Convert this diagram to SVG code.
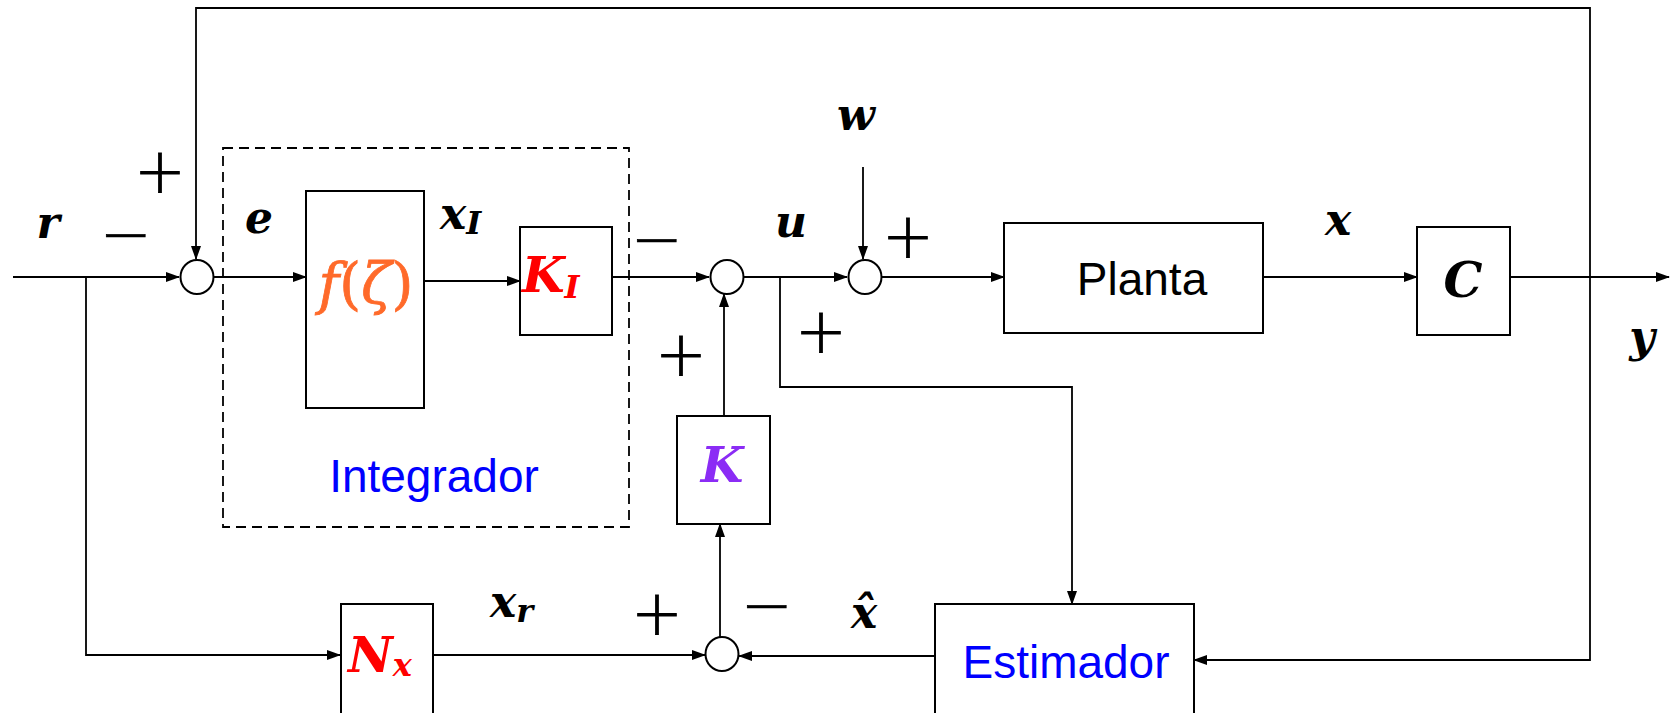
<svg xmlns="http://www.w3.org/2000/svg" width="1670" height="713" viewBox="0 0 1670 713">
<defs>
<marker id="ar" markerWidth="14" markerHeight="10" refX="13" refY="5" orient="auto" markerUnits="userSpaceOnUse">
<path d="M0,0 L14,5 L0,10 Z" fill="#000"/>
</marker>
<style>
.ln{fill:none;stroke:#000;stroke-width:1.8}
.bx{fill:#fff;stroke:#000;stroke-width:2}
.sum{fill:#fff;stroke:#000;stroke-width:2}
.m{font-family:"DejaVu Serif",serif;font-weight:bold;font-style:italic;font-size:44px;fill:#000}
.big{font-size:49px}
.sub{font-size:32px}
.s{font-family:"Liberation Sans",Arial,sans-serif;font-size:46px}
.pm{font-family:"DejaVu Sans",sans-serif;font-weight:300;font-size:62px;fill:#000;text-anchor:middle;stroke:#000;stroke-width:0.8}
.c{text-anchor:middle}
</style>
</defs>
<rect width="1670" height="713" fill="#fff"/>
<g id="connectors">
<path class="ln" d="M13,277 H179" marker-end="url(#ar)"/>
<path class="ln" d="M86,277 V655 H340" marker-end="url(#ar)"/>
<path class="ln" d="M1590,277 V8 H196 V259" marker-end="url(#ar)"/>
<path class="ln" d="M214,277 H306" marker-end="url(#ar)"/>
<path class="ln" d="M424,281 H520" marker-end="url(#ar)"/>
<path class="ln" d="M612,277 H709" marker-end="url(#ar)"/>
<path class="ln" d="M744,277 H847" marker-end="url(#ar)"/>
<path class="ln" d="M863,167 V259" marker-end="url(#ar)"/>
<path class="ln" d="M882,277 H1004" marker-end="url(#ar)"/>
<path class="ln" d="M1263,277 H1417" marker-end="url(#ar)"/>
<path class="ln" d="M1510,277 H1669" marker-end="url(#ar)"/>
<path class="ln" d="M1590,277 V660 H1194" marker-end="url(#ar)"/>
<path class="ln" d="M780,277 V387 H1072 V604" marker-end="url(#ar)"/>
<path class="ln" d="M935,656 H739" marker-end="url(#ar)"/>
<path class="ln" d="M433,655 H705" marker-end="url(#ar)"/>
<path class="ln" d="M720,637 V524" marker-end="url(#ar)"/>
<path class="ln" d="M724,416 V294" marker-end="url(#ar)"/>
</g>
<g id="integrador">
<rect x="223" y="148" width="406" height="379" fill="none" stroke="#000" stroke-width="1.8" stroke-dasharray="10,6"/>
<text class="s c" x="434" y="492" fill="#0000ff">Integrador</text>
</g>
<g id="sum1"><ellipse class="sum" cx="197" cy="277" rx="16.5" ry="17"/></g>
<g id="sum2"><ellipse class="sum" cx="727" cy="277" rx="16.5" ry="17"/></g>
<g id="sum3"><ellipse class="sum" cx="865" cy="277" rx="16.5" ry="17"/></g>
<g id="sum4"><ellipse class="sum" cx="722" cy="654" rx="16.5" ry="17"/></g>
<g id="f">
<rect class="bx" x="306" y="191" width="118" height="217"/>
<text x="366" y="303" text-anchor="middle" font-family="DejaVu Serif,serif" font-size="56" fill="#ff6a2a" stroke="#ff6a2a" stroke-width="0.8"><tspan font-style="italic">f</tspan><tspan>(</tspan><tspan font-style="italic">ζ</tspan><tspan>)</tspan></text>
</g>
<g id="KI">
<rect class="bx" x="520" y="227" width="92" height="108"/>
<text class="m big" x="522" y="292" style="fill:#ff0000">K<tspan class="sub" dy="6">I</tspan></text>
</g>
<g id="planta">
<rect class="bx" x="1004" y="223" width="259" height="110"/>
<text class="s c" x="1142" y="295">Planta</text>
</g>
<g id="C">
<rect class="bx" x="1417" y="227" width="93" height="108"/>
<text class="m big c" x="1463" y="297">C</text>
</g>
<g id="K">
<rect class="bx" x="677" y="416" width="93" height="108"/>
<text class="m big c" x="722" y="482" style="fill:#8b2cf5">K</text>
</g>
<g id="Nx">
<rect class="bx" x="341" y="604" width="92" height="120"/>
<text class="m big" x="348" y="672" style="fill:#ff0000">N<tspan class="sub" dy="4">x</tspan></text>
</g>
<g id="estimador">
<rect class="bx" x="935" y="604" width="259" height="120"/>
<text class="s c" x="1066" y="678" fill="#0000ff">Estimador</text>
</g>
<g id="labels">
<text class="m c" x="48" y="238">r</text>
<text class="m c" x="259" y="233">e</text>
<text class="m" x="440" y="229">x<tspan class="sub" dy="5">I</tspan></text>
<text class="m c" x="791" y="237">u</text>
<text class="m c" x="856" y="130">w</text>
<text class="m c" x="1338" y="235">x</text>
<text class="m c" x="1642" y="352">y</text>
<text class="m" x="490" y="617">x<tspan class="sub" dy="5">r</tspan></text>
<text class="m c" x="864" y="628">x̂</text>
</g>
<g id="signs">
<text class="pm" x="160" y="192">+</text>
<text class="pm" x="126" y="255">−</text>
<text class="pm" x="657" y="260">−</text>
<text class="pm" x="908" y="257">+</text>
<text class="pm" x="821" y="352">+</text>
<text class="pm" x="681" y="375">+</text>
<text class="pm" x="657" y="634">+</text>
<text class="pm" x="767" y="626">−</text>
</g>
</svg>
